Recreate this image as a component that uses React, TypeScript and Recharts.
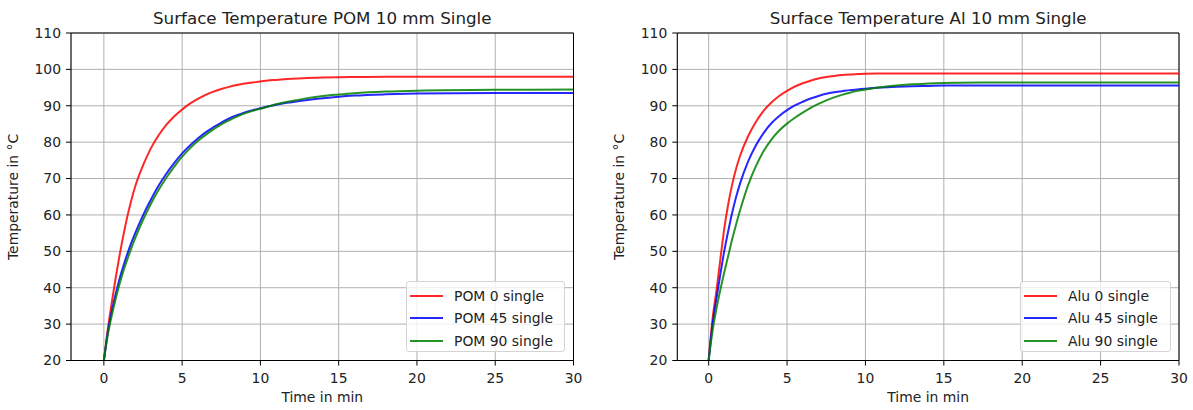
import React from "react";
import {
  LineChart,
  Line,
  XAxis,
  YAxis,
  CartesianGrid,
  ReferenceLine,
  Legend,
} from "recharts";

// time in minutes
const timeMin = [0, 0.25, 0.5, 0.75, 1, 1.25, 1.5, 1.75, 2, 2.5, 3, 3.5, 4, 4.5, 5, 5.5, 6, 6.5, 7, 7.5, 8, 8.5, 9, 9.5, 10, 11, 12, 13, 14, 15, 16, 18, 20, 25, 30];

const pom0 = [20, 28.5, 35.8, 42.6, 48.8, 54.5, 59.6, 64, 67.8, 73.6, 78.3, 81.9, 84.8, 87.1, 89.0, 90.6, 91.9, 93.0, 93.9, 94.6, 95.2, 95.7, 96.1, 96.4, 96.7, 97.1, 97.4, 97.6, 97.75, 97.85, 97.9, 97.95, 98.0, 98.0, 98.0];
const pom45 = [20, 27.8, 33.4, 38.2, 42.4, 46.0, 49.3, 52.3, 55.0, 59.9, 64.2, 68.1, 71.4, 74.3, 76.9, 79.1, 81.0, 82.7, 84.1, 85.4, 86.5, 87.4, 88.2, 88.8, 89.3, 90.3, 91.0, 91.6, 92.1, 92.5, 92.8, 93.15, 93.35, 93.5, 93.5];
const pom90 = [20, 27, 32.3, 36.9, 41.0, 44.6, 47.8, 50.8, 53.6, 58.6, 63.0, 66.9, 70.3, 73.3, 76.0, 78.3, 80.3, 82.0, 83.5, 84.9, 86.0, 87.0, 87.9, 88.6, 89.2, 90.4, 91.3, 92.1, 92.7, 93.1, 93.45, 93.9, 94.15, 94.4, 94.45];

const alu0 = [20, 31.5, 39.3, 48.0, 56.4, 63.0, 68.4, 72.7, 76.2, 81.5, 85.5, 88.6, 90.9, 92.7, 94.1, 95.3, 96.2, 96.9, 97.5, 97.9, 98.2, 98.45, 98.6, 98.7, 98.8, 98.85, 98.9, 98.9, 98.9, 98.9, 98.9, 98.9, 98.9, 98.9, 98.9];
const alu45 = [20, 30, 37.0, 43.8, 50.2, 55.6, 60.6, 64.9, 68.6, 74.5, 79.0, 82.5, 85.2, 87.2, 88.8, 90.1, 91.1, 92.0, 92.7, 93.3, 93.7, 94.0, 94.3, 94.5, 94.7, 95.0, 95.2, 95.35, 95.45, 95.55, 95.6, 95.6, 95.6, 95.6, 95.6];
const alu90 = [20, 28.2, 34.3, 39.5, 44.3, 48.8, 53.3, 57.4, 61.2, 68.0, 73.3, 77.5, 80.7, 83.2, 85.1, 86.7, 88.1, 89.4, 90.5, 91.5, 92.3, 93.0, 93.6, 94.1, 94.5, 95.1, 95.55, 95.9, 96.1, 96.25, 96.32, 96.4, 96.4, 96.4, 96.4];

const xTicks = [0, 5, 10, 15, 20, 25, 30];
const yTicks = [20, 30, 40, 50, 60, 70, 80, 90, 100, 110];

const COLORS = { r: "#ff0000", b: "#0000ff", g: "#008000" };
const FONT = "DejaVu Sans";
const TICK = { fill: "#222", fontSize: 13.9, fontFamily: FONT };

type Panel = {
  title: string;
  names: [string, string, string];
  series: [number[], number[], number[]];
  xMin: number;
  left: number;
  width: number;
  marginLeft: number;
  marginRight: number;
  legendLeft: number;
  legendWidth: number;
};

const panels: Panel[] = [
  {
    title: "Surface Temperature POM 10 mm Single",
    names: ["POM 0 single", "POM 45 single", "POM 90 single"],
    series: [pom0, pom45, pom90],
    xMin: -2.1,
    left: 0,
    width: 600,
    marginLeft: 31,
    marginRight: 26.5,
    legendLeft: 406,
    legendWidth: 159,
  },
  {
    title: "Surface Temperature Al 10 mm Single",
    names: ["Alu 0 single", "Alu 45 single", "Alu 90 single"],
    series: [alu0, alu45, alu90],
    xMin: -2,
    left: 600,
    width: 593,
    marginLeft: 37.3,
    marginRight: 14,
    legendLeft: 420,
    legendWidth: 151,
  },
];

function LegendBox({ names }: { names: string[] }) {
  const cols = [COLORS.r, COLORS.b, COLORS.g];
  return (
    <div
      style={{
        border: "1px solid #d4d4d4",
        borderRadius: 3,
        background: "rgba(255,255,255,0.8)",
        padding: "3px 0 3px 3px",
        boxSizing: "border-box",
        width: "100%",
        height: "100%",
      }}
    >
      {names.map((n, i) => (
        <div key={n} style={{ display: "flex", alignItems: "center", height: 22.3, fontSize: 13.9, fontFamily: FONT, color: "#222" }}>
          <span style={{ display: "inline-block", width: 33, height: 2, background: cols[i], opacity: 0.85, marginRight: 11 }} />
          {n}
        </div>
      ))}
    </div>
  );
}

function PanelChart({ p }: { p: Panel }) {
  const data = timeMin.map((t, i) => ({ t, r: p.series[0][i], b: p.series[1][i], g: p.series[2][i] }));
  const plotW = p.width - p.marginLeft - 40 - p.marginRight;
  const plotCx = p.marginLeft + 40 + plotW / 2;
  return (
    <div style={{ position: "absolute", left: p.left, top: 0, width: p.width, height: 410 }}>
      <LineChart width={p.width} height={410} data={data} margin={{ top: 33, right: p.marginRight, bottom: 19.5, left: p.marginLeft }}>
        <CartesianGrid stroke="#b0b0b0" strokeWidth={1} />
        <XAxis
          dataKey="t"
          type="number"
          domain={[p.xMin, 30]}
          allowDataOverflow
          ticks={xTicks}
          height={30}
          tick={TICK}
          tickSize={5}
          tickMargin={8}
          stroke="#000"
        />
        <YAxis
          type="number"
          domain={[20, 110]}
          ticks={yTicks}
          width={40}
          tick={TICK}
          tickSize={5}
          tickMargin={5}
          stroke="#000"
        />
        <ReferenceLine y={110} stroke="#000" />
        <ReferenceLine x={30} stroke="#000" />
        <Line type="monotone" dataKey="r" stroke={COLORS.r} strokeOpacity={0.85} strokeWidth={2} dot={false} isAnimationActive={false} />
        <Line type="monotone" dataKey="b" stroke={COLORS.b} strokeOpacity={0.85} strokeWidth={2} dot={false} isAnimationActive={false} />
        <Line type="monotone" dataKey="g" stroke={COLORS.g} strokeOpacity={0.85} strokeWidth={2} dot={false} isAnimationActive={false} />
        <Legend
          layout="vertical"
          align="center"
          verticalAlign="middle"
          wrapperStyle={{ left: p.legendLeft, top: 281, width: p.legendWidth, height: 71 }}
          content={() => <LegendBox names={p.names} />}
        />
      </LineChart>
      <div
        style={{
          position: "absolute",
          left: plotCx - 250,
          width: 500,
          top: 10.2,
          textAlign: "center",
          fontSize: 16.7,
          lineHeight: "16.7px",
          fontFamily: FONT,
          color: "#222",
          whiteSpace: "nowrap",
        }}
      >
        {p.title}
      </div>
      <div
        style={{
          position: "absolute",
          left: plotCx - 100,
          width: 200,
          top: 391,
          textAlign: "center",
          fontSize: 13.9,
          lineHeight: "13.9px",
          fontFamily: FONT,
          color: "#222",
        }}
      >
        Time in min
      </div>
      <div
        style={{
          position: "absolute",
          left: p.marginLeft - 31 + 13.5 - 100,
          top: 197 - 7,
          width: 200,
          height: 13.9,
          transform: "rotate(-90deg)",
          transformOrigin: "50% 50%",
          textAlign: "center",
          fontSize: 13.9,
          lineHeight: "13.9px",
          fontFamily: FONT,
          color: "#222",
          whiteSpace: "nowrap",
        }}
      >
        Temperature in °C
      </div>
    </div>
  );
}

export default function App() {
  return (
    <div style={{ position: "absolute", left: 0, top: 0, width: 1193, height: 410, background: "#fff" }}>
      {panels.map((p) => (
        <PanelChart key={p.title} p={p} />
      ))}
    </div>
  );
}
